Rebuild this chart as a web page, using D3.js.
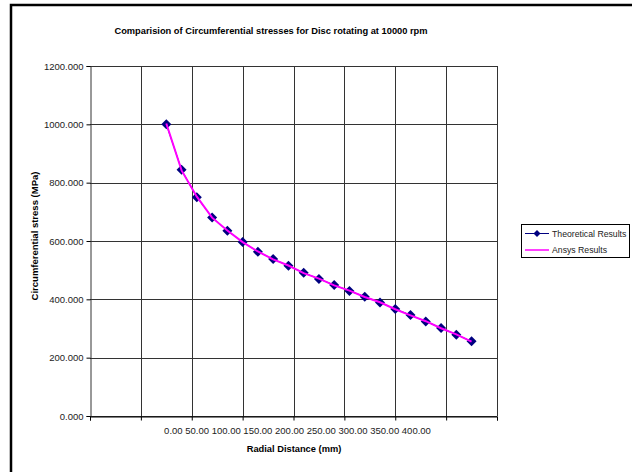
<!DOCTYPE html>
<html>
<head>
<meta charset="utf-8">
<script src="https://cdn.jsdelivr.net/npm/d3@7"></script>
<style>
  body { margin: 0; background: #fff; }
  svg { display: block; font-family: "Liberation Sans", Arial, sans-serif; }
</style>
</head>
<body>
<svg id="chart" width="632" height="472"></svg>
<script>
// radial positions (mm) and stresses (MPa)
const radius = [75, 90, 105, 120, 135, 150, 165, 180, 195, 210, 225, 240, 255, 270, 285, 300, 315, 330, 345, 360, 375];
const theoretical = [1000, 844, 750, 681, 635, 597, 563, 538, 515, 491, 470, 449, 429, 409, 389, 367, 346, 324, 302, 279, 256];
const ansys = [1003, 842, 752, 680, 636, 596, 564, 537, 516, 490, 471, 448, 430, 408, 390, 366, 345, 325, 301, 280, 255];
const xTickLabels = ["0.00", "50.00", "100.00", "150.00", "200.00", "250.00", "300.00", "350.00", "400.00"];
const yTicks = [0, 200, 400, 600, 800, 1000, 1200];

const svg = d3.select("#chart");

// outer chart border
svg.append("rect")
    .attr("x", 11).attr("y", 5)
    .attr("width", 700).attr("height", 600)
    .attr("fill", "none")
    .attr("stroke", "#000")
    .attr("stroke-width", 2.5);

const plotL = 90, plotR = 497, plotT = 66, plotB = 416;

const x = d3.scaleLinear().domain([0, 400]).range([plotL, plotR]);
const y = d3.scaleLinear().domain([0, 1200]).range([plotB, plotT]);

// grid
const grid = svg.append("g").attr("shape-rendering", "crispEdges");
grid.selectAll(".hg")
    .data(yTicks)
    .enter().append("line")
    .attr("x1", plotL).attr("x2", plotR)
    .attr("y1", d => Math.round(y(d)) + 0.5).attr("y2", d => Math.round(y(d)) + 0.5)
    .attr("stroke", "#333");
grid.selectAll(".vg")
    .data(d3.range(50, 401, 50))
    .enter().append("line")
    .attr("x1", d => Math.round(x(d)) + 0.5).attr("x2", d => Math.round(x(d)) + 0.5)
    .attr("y1", plotT).attr("y2", plotB)
    .attr("stroke", "#333");

// Y axis
const yAxis = svg.append("g")
    .attr("transform", `translate(${plotL + 0.5},0)`)
    .call(d3.axisLeft(y).tickValues(yTicks).tickSize(4).tickFormat(d3.format(".3f")));
yAxis.select(".domain").attr("stroke", "#333");
yAxis.selectAll("text")
    .attr("font-size", "9.5px")
    .attr("fill", "#222")
    .attr("font-family", "'Liberation Sans', Arial, sans-serif");

// X axis (labels drawn as one run, as in the original)
const xAxis = svg.append("g")
    .attr("transform", `translate(0,${plotB + 0.5})`)
    .call(d3.axisBottom(x).tickValues(d3.range(0, 401, 50)).tickSize(4).tickFormat(""));
xAxis.select(".domain").attr("stroke", "#000");

svg.append("text")
    .attr("x", (plotL + plotR) / 2 + 4)
    .attr("y", 434)
    .attr("text-anchor", "middle")
    .attr("font-size", "9.5px")
    .attr("fill", "#222")
    .text(xTickLabels.join(" "));

// titles
svg.append("text")
    .attr("x", 271).attr("y", 34)
    .attr("text-anchor", "middle")
    .attr("font-size", "9.3px")
    .attr("font-weight", "bold")
    .text("Comparision of Circumferential stresses for Disc rotating at 10000 rpm");

svg.append("text")
    .attr("x", 294).attr("y", 452)
    .attr("text-anchor", "middle")
    .attr("font-size", "9.3px")
    .attr("font-weight", "bold")
    .text("Radial Distance (mm)");

svg.append("text")
    .attr("transform", "translate(38,236) rotate(-90)")
    .attr("text-anchor", "middle")
    .attr("font-size", "9.5px")
    .attr("font-weight", "bold")
    .text("Circumferential stress (MPa)");

// series
const theo = radius.map((r, i) => ({ r: r, v: theoretical[i] }));
const ans = radius.map((r, i) => ({ r: r, v: ansys[i] }));

const line = d3.line().x(d => x(d.r)).y(d => y(d.v));
const diamond = (cx, cy, s) => `M${cx},${cy - s}L${cx + s},${cy}L${cx},${cy + s}L${cx - s},${cy}Z`;

svg.append("path")
    .datum(theo)
    .attr("fill", "none")
    .attr("stroke", "#000080")
    .attr("stroke-width", 1)
    .attr("d", line);

svg.selectAll(".pt")
    .data(theo)
    .enter().append("path")
    .attr("class", "pt")
    .attr("fill", "#000080")
    .attr("d", d => diamond(x(d.r), y(d.v), 5));

svg.append("path")
    .datum(ans)
    .attr("fill", "none")
    .attr("stroke", "#ff00ff")
    .attr("stroke-width", 2)
    .attr("d", line);

// legend
const lg = svg.append("g");
lg.append("rect")
    .attr("x", 521.5).attr("y", 224.5)
    .attr("width", 108).attr("height", 33)
    .attr("fill", "#fff")
    .attr("stroke", "#000");
lg.append("line")
    .attr("x1", 525).attr("x2", 549).attr("y1", 233.5).attr("y2", 233.5)
    .attr("stroke", "#000080");
lg.append("path")
    .attr("fill", "#000080")
    .attr("d", diamond(537, 233.5, 3.5));
lg.append("line")
    .attr("x1", 525).attr("x2", 549).attr("y1", 250).attr("y2", 250)
    .attr("stroke", "#ff00ff").attr("stroke-width", 1.5);
lg.append("text")
    .attr("x", 552).attr("y", 236.5)
    .attr("font-size", "8.7px").attr("fill", "#222")
    .text("Theoretical Results");
lg.append("text")
    .attr("x", 552).attr("y", 253)
    .attr("font-size", "8.7px").attr("fill", "#222")
    .text("Ansys Results");
</script>
</body>
</html>
